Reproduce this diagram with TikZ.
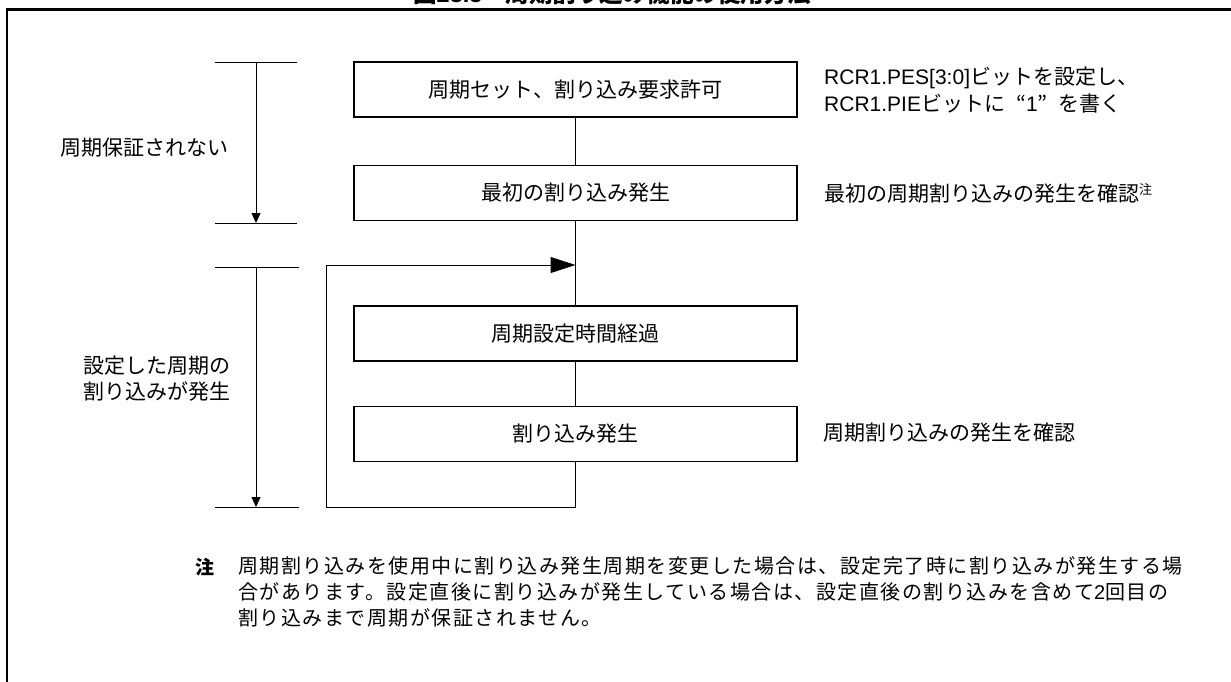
\documentclass[tikz,border=0pt]{standalone}
\usepackage{fontspec}
\setmainfont{Noto Sans CJK JP}
\newfontfamily\lat{Liberation Sans}
\newfontfamily\jpnote[LetterSpace=7.5]{Noto Sans CJK JP}
\usetikzlibrary{arrows.meta}
\newcommand{\fq}[1]{\makebox[1em][r]{“}#1\makebox[1em][l]{”}}
\begin{document}
\begin{tikzpicture}[x=1pt,y=-1pt,
  stepbox/.style={draw, line width=1.4pt, minimum width=443pt, minimum height=55pt, inner sep=0pt, font=\fontsize{21}{25}\selectfont},
  txt/.style={inner sep=0pt, font=\fontsize{21}{26.5}\selectfont, align=left},
  notetxt/.style={inner sep=0pt, font=\jpnote\fontsize{20}{26}\selectfont, align=left},
  flow/.style={line width=1pt},
  dim/.style={line width=0.8pt},
  frame/.style={line width=2.5pt}
]
\useasboundingbox (0,0) rectangle (1231,681);
\clip (0,0) rectangle (1231,681);
% title (clipped)
\node[inner sep=0pt, anchor=base west, font=\bfseries\fontsize{23.5}{24}\selectfont] (title) at (413,2) {図{\lat 28.5}　周期割り込み機能の使用方法};
% frame
\draw[frame] (7,690) -- (7,9.5) -- (1240,9.5);
% boxes
\node[stepbox] (b1) at (575.5,89.5) {周期セット、割り込み要求許可};
\node[stepbox] (b2) at (575.5,193) {最初の割り込み発生};
\node[stepbox] (b3) at (575.5,333.5) {周期設定時間経過};
\node[stepbox] (b4) at (575.5,434) {割り込み発生};
\coordinate (j) at (575.5,265);
\coordinate (lc) at (326,265);
\coordinate (lb) at (326,507);
\draw[flow] (b1.south) -- (b2.north);
\draw[flow] (b2.south) -- (b3.north);
\draw[flow] (b3.south) -- (b4.north);
\draw[flow] (b4.south) |- (lb) -- (lc);
\draw[flow, -{Triangle[length=25pt,width=16pt]}] (lc) -- (j);
% dimension brackets
\coordinate (a1l) at (215,62); \coordinate (a1r) at (297,62);
\coordinate (a1t) at (256,62); \coordinate (a1b) at (256,223);
\coordinate (a1bl) at (215,223); \coordinate (a1br) at (297,223);
\draw[dim] (a1l) -- (a1r);
\draw[dim] (a1bl) -- (a1br);
\draw[dim, -{Triangle[length=10pt,width=9pt]}] (a1t) -- (a1b);
\coordinate (a2l) at (215,267); \coordinate (a2r) at (299,267);
\coordinate (a2t) at (256,267); \coordinate (a2b) at (256,507);
\coordinate (a2bl) at (215,507); \coordinate (a2br) at (299,507);
\draw[dim] (a2l) -- (a2r);
\draw[dim] (a2bl) -- (a2br);
\draw[dim, -{Triangle[length=10pt,width=9pt]}] (a2t) -- (a2b);
% left labels
\node[txt, anchor=west] (l1) at (60,148) {周期保証されない};
\node[txt, anchor=west] (l2) at (83,378.5) {設定した周期の\\割り込みが発生};
% right annotations
\node[txt, anchor=west] (r1) at (824,90) {{\lat RCR1.PES[3:0]}ビットを設定し、\\{\lat RCR1.PIE}ビットに\fq{{\lat 1}}を書く};
\node[txt, anchor=west] (r2) at (824,193) {最初の周期割り込みの発生を確認\raisebox{7pt}{\fontsize{13}{13}\selectfont 注}};
\node[txt, anchor=west] (r3) at (823,433) {周期割り込みの発生を確認};
% note
\node[inner sep=0pt, anchor=west, font=\bfseries\fontsize{19}{20}\selectfont] (nm) at (195,567) {注};
\node[notetxt, anchor=north west] (nt) at (238,556) {周期割り込みを使用中に割り込み発生周期を変更した場合は、設定完了時に割り込みが発生する場\\合があります。設定直後に割り込みが発生している場合は、設定直後の割り込みを含めて{\lat 2}回目の\\割り込みまで周期が保証されません。};
\end{tikzpicture}
\end{document}
